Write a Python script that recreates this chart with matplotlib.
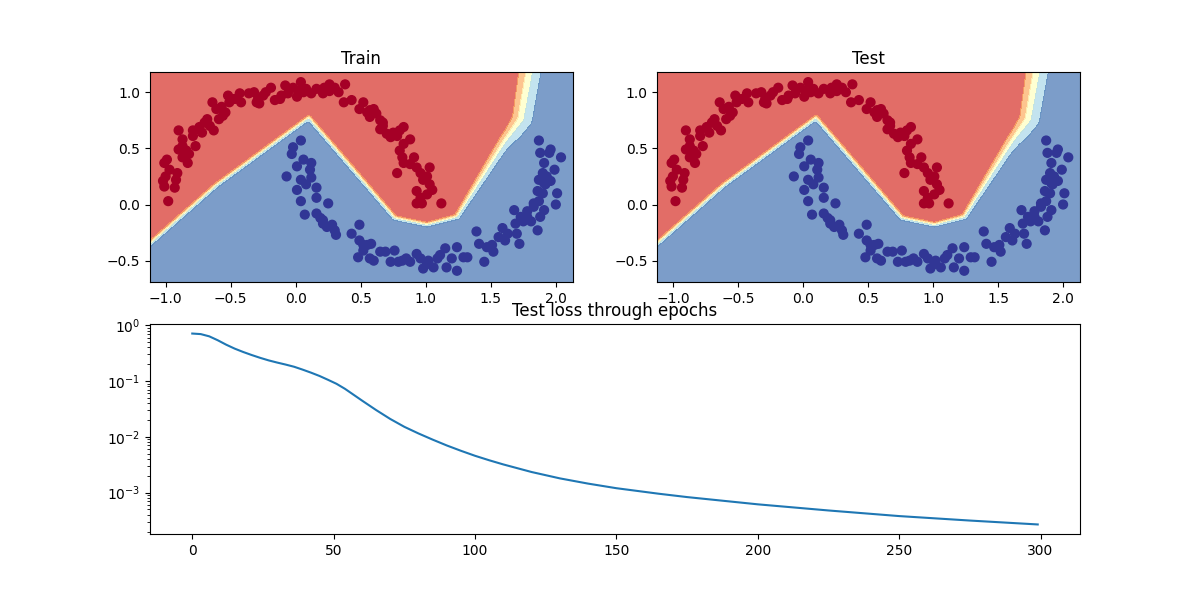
import numpy as np
import matplotlib
matplotlib.use('Agg')
import matplotlib.pyplot as plt

# points of class 0 (red moon)
red_x = [-0.98, -1.01, -1.02, -0.93, -1.00, -1.01, -0.99, -0.91, -0.87, -0.83,
         -0.90, -0.84, -0.82, -0.77, -0.90, -0.87, -0.79, -0.74, -0.70, -0.66,
         -0.63, -0.72, -0.59, -0.56, -0.64, -0.61, -0.57, -0.51, -0.52, -0.47,
         -0.43, -0.42, -0.36, -0.32, -0.29, -0.28, -0.25, -0.23, -0.19, -0.16,
         -0.12, -0.08, -0.06, -0.02, 0.01, 0.04, 0.06, 0.08, 0.12, 0.21,
         0.22, 0.26, 0.30, 0.33, 0.38, 0.37, 0.43, 0.52, 0.49, 0.55,
         0.57, 0.60, 0.62, 0.65, 0.67, 0.65, 0.70, 0.73, 0.78, 0.80,
         0.83, 0.88, 0.83, 0.80, 0.82, 0.83, 0.88, 0.93, 0.96, 1.03,
         0.98, 1.03, 1.05, 1.01, 0.93, 0.96, 0.93, 0.97, 0.78, 1.12,
         -0.97, -0.92, -0.87, -0.79, -0.68, -0.54, -0.30, -0.11, 0.02, 0.16,
         0.26, 0.57, 0.67, 0.75, 0.91, 1.01]
red_y = [0.03, 0.16, 0.21, 0.15, 0.25, 0.37, 0.40, 0.28, 0.42, 0.37,
         0.49, 0.48, 0.45, 0.52, 0.66, 0.58, 0.66, 0.69, 0.73, 0.70,
         0.66, 0.64, 0.76, 0.79, 0.91, 0.85, 0.87, 0.91, 0.97, 0.94,
         0.99, 0.91, 0.99, 1.00, 0.94, 0.90, 0.97, 1.00, 1.04, 0.93,
         0.94, 1.06, 0.99, 1.04, 0.96, 1.09, 1.00, 1.03, 0.99, 0.99,
         1.04, 1.07, 1.04, 1.00, 1.07, 0.91, 0.93, 0.91, 0.85, 0.82,
         0.78, 0.85, 0.81, 0.75, 0.73, 0.67, 0.63, 0.60, 0.61, 0.66,
         0.69, 0.58, 0.54, 0.48, 0.42, 0.37, 0.36, 0.33, 0.28, 0.33,
         0.22, 0.18, 0.13, 0.09, 0.12, 0.06, 0.01, 0.01, 0.28, 0.01,
         0.31, 0.22, 0.52, 0.61, 0.76, 0.82, 0.91, 0.97, 1.01, 1.03,
         1.01, 0.84, 0.70, 0.64, 0.42, 0.25]

# points of class 1 (blue moon)
blue_x = [0.04, -0.02, -0.03, 0.06, 0.12, 0.01, -0.07, 0.04, 0.12, 0.08,
          0.16, 0.01, 0.04, 0.16, 0.25, 0.07, 0.16, 0.19, 0.21, 0.28,
          0.30, 0.31, 0.24, 0.49, 0.43, 0.49, 0.55, 0.58, 0.52, 0.48,
          0.57, 0.60, 0.69, 0.76, 0.73, 0.79, 0.82, 0.88, 0.93, 0.96,
          0.98, 1.02, 1.06, 1.09, 1.11, 1.15, 1.16, 1.20, 1.24, 1.24,
          1.29, 1.39, 1.41, 1.45, 1.51, 1.52, 1.56, 1.59, 1.61, 1.68,
          1.69, 1.70, 1.72, 1.73, 1.78, 1.81, 1.83, 1.86, 1.88, 1.87,
          1.90, 1.91, 1.93, 1.90, 1.91, 1.88, 1.95, 1.87, 1.96, 2.01,
          2.00, 2.04, 1.99, 1.91, 1.86, 1.78,
          0.11, 0.21, 0.52, 0.65, 0.85, 1.01, 1.32, 1.63, 1.75, 1.92,
          1.96, 1.87, 1.83, 1.47]
blue_y = [0.57, 0.51, 0.45, 0.40, 0.37, 0.34, 0.25, 0.22, 0.24, 0.18,
          0.15, 0.13, 0.03, 0.06, 0.01, -0.09, -0.08, -0.12, -0.17, -0.18,
          -0.23, -0.27, -0.20, -0.18, -0.26, -0.32, -0.36, -0.35, -0.41, -0.47,
          -0.48, -0.50, -0.42, -0.41, -0.51, -0.51, -0.50, -0.51, -0.44, -0.48,
          -0.57, -0.50, -0.56, -0.48, -0.45, -0.39, -0.56, -0.48, -0.38, -0.59,
          -0.47, -0.24, -0.35, -0.51, -0.36, -0.42, -0.29, -0.21, -0.32, -0.05,
          -0.17, -0.26, -0.35, -0.11, -0.06, -0.15, -0.02, -0.23, -0.11, 0.03,
          0.10, 0.19, 0.25, 0.28, 0.37, 0.46, 0.46, 0.57, 0.21, 0.10,
          0.00, 0.42, 0.31, -0.05, 0.12, -0.11,
          0.31, -0.14, -0.36, -0.42, -0.48, -0.53, -0.47, -0.26, -0.15, 0.18,
          0.49, 0.22, 0.01, -0.38]

# middle line of the decision boundary band, and its half-width
edge_x = [-1.13, -0.61, 0.10, 0.76, 1.01, 1.24, 1.61, 1.73, 1.80]
edge_y = [-0.36, 0.17, 0.77, -0.12, -0.18, -0.11, 0.57, 0.76, 1.21]
edge_w = [0.015, 0.015, 0.015, 0.015, 0.015, 0.017, 0.035, 0.06, 0.065]

# test loss
epochs = [0, 3, 6, 9, 12, 15, 18, 21, 24, 27, 30, 33, 36, 39, 42, 45, 48,
          51, 54, 57, 60, 65, 70, 75, 80, 85, 90, 95, 100, 105, 110,
          120, 130, 140, 150, 165, 175, 200, 225, 250, 275, 299]
loss = [0.708, 0.692, 0.631, 0.537, 0.447, 0.380, 0.331, 0.292, 0.260, 0.234,
        0.214, 0.197, 0.180, 0.160, 0.141, 0.123, 0.105, 0.0891, 0.0724,
        0.0569, 0.0447, 0.0302, 0.0209, 0.0151, 0.01148, 0.00891, 0.00700,
        0.00562, 0.00457, 0.00380, 0.00320, 0.00234, 0.00180, 0.00145,
        0.00120, 0.000955, 0.000832, 0.000617, 0.000479, 0.000380,
        0.000316, 0.000269]

X = np.c_[red_x + blue_x, red_y + blue_y]
y = np.r_[np.zeros(len(red_x)), np.ones(len(blue_x))]

# grid for the decision surface
x_min, x_max = X[:, 0].min() - .1, X[:, 0].max() + .1
y_min, y_max = X[:, 1].min() - .1, X[:, 1].max() + .1
xx, yy = np.meshgrid(np.arange(x_min, x_max, 0.01),
                     np.arange(y_min, y_max, 0.01))
px, py = xx.ravel(), yy.ravel()

# distance of each grid point to the boundary line
d = np.full(px.shape, np.inf)
for i in range(len(edge_x) - 1):
    dx = edge_x[i + 1] - edge_x[i]
    dy = edge_y[i + 1] - edge_y[i]
    t = ((px - edge_x[i]) * dx + (py - edge_y[i]) * dy) / (dx * dx + dy * dy)
    t = np.clip(t, 0, 1)
    d = np.minimum(d, np.hypot(px - edge_x[i] - t * dx, py - edge_y[i] - t * dy))
side = np.where(py < np.interp(px, edge_x, edge_y), 1, -1)
w = np.interp(px, edge_x, edge_w)
Z = (1 / (1 + np.exp(-side * d / w))).reshape(xx.shape)

plt.figure(figsize=(12, 6))

for k, name in enumerate(['Train', 'Test']):
    plt.subplot(2, 2, k + 1)
    plt.contourf(xx, yy, Z, levels=[0, .2, .4, .6, .8, 1.],
                 cmap=plt.cm.RdYlBu, alpha=0.7)
    plt.scatter(X[:, 0], X[:, 1], c=y, s=40, cmap=plt.cm.RdYlBu)
    plt.xlim(xx.min(), xx.max())
    plt.ylim(yy.min(), yy.max())
    plt.title(name)

plt.subplot(2, 1, 2)
plt.semilogy(epochs, loss)
plt.title('Test loss through epochs')

plt.savefig('out.png')
